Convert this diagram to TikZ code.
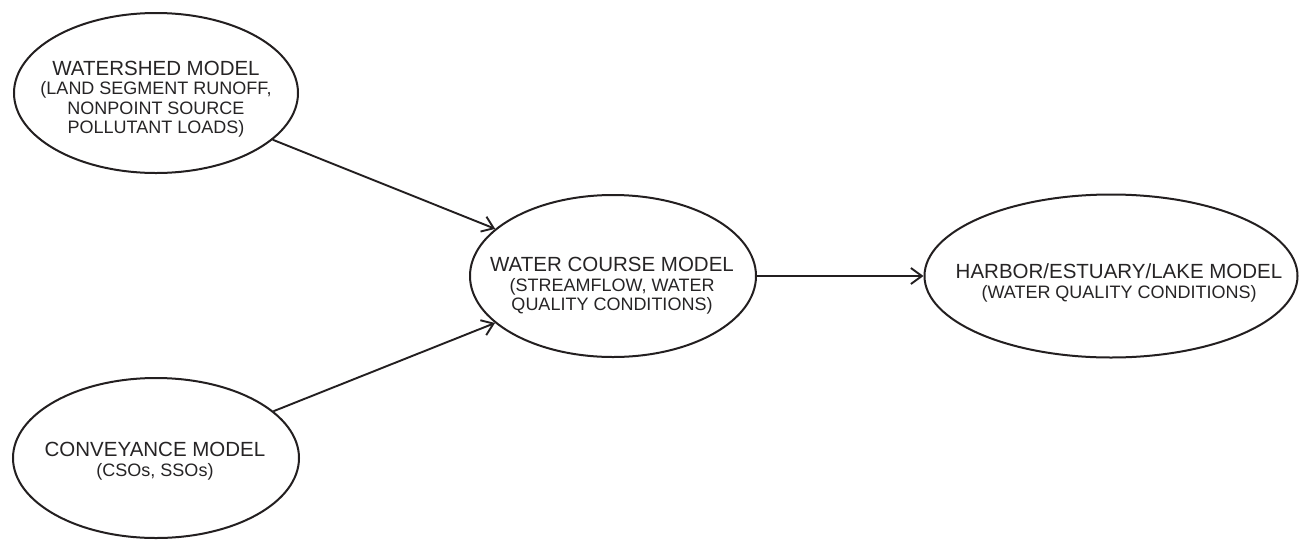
\documentclass[tikz,border=0pt]{standalone}
\usepackage{fontspec}
\setmainfont{Liberation Sans}
\usetikzlibrary{shapes.geometric,arrows.meta}
\definecolor{ink}{HTML}{231F20}
\definecolor{txt}{HTML}{262425}
\tikzset{
  model/.style={ellipse, draw=ink, line width=2pt, inner sep=0pt},
  label/.style={align=center, text=txt, inner sep=0pt, font=\fontsize{18}{19.5}\selectfont},
  flow/.style={draw=ink, line width=1.9pt, -{Straight Barb[length=11pt,width=16pt,line width=1.9pt]}},
}
\newcommand{\ttl}[1]{{\fontsize{20.5}{19.5}\selectfont #1}}
\begin{document}
\begin{tikzpicture}[x=1pt,y=-1pt]
\useasboundingbox (0,0) rectangle (1299,539);
\fill[white] (0,0) rectangle (1299,539);
\node[model, minimum width=284pt, minimum height=160pt] (ws) at (156,93) {};
\node[model, minimum width=286pt, minimum height=160pt] (cv) at (156,458) {};
\node[model, minimum width=286pt, minimum height=162pt] (wc) at (613,276) {};
\node[model, minimum width=373pt, minimum height=163pt] (hb) at (1111,276) {};
\node[label] (wst) at (156,99) {\ttl{WATERSHED MODEL}\\(LAND SEGMENT RUNOFF,\\NONPOINT SOURCE\\POLLUTANT LOADS)};
\node[label] (cvt) at (155,461) {\ttl{CONVEYANCE MODEL}\\(CSOs, SSOs)};
\node[label] (wct) at (612,286) {\ttl{WATER COURSE MODEL}\\(STREAMFLOW, WATER\\QUALITY CONDITIONS)};
\node[label] (hbt) at (1119,283) {\ttl{HARBOR/ESTUARY/LAKE MODEL}\\(WATER QUALITY CONDITIONS)};
\draw[flow] (ws) -- (wc);
\draw[flow] (cv) -- (wc);
\draw[flow] (wc) -- (hb);
\end{tikzpicture}
\end{document}
